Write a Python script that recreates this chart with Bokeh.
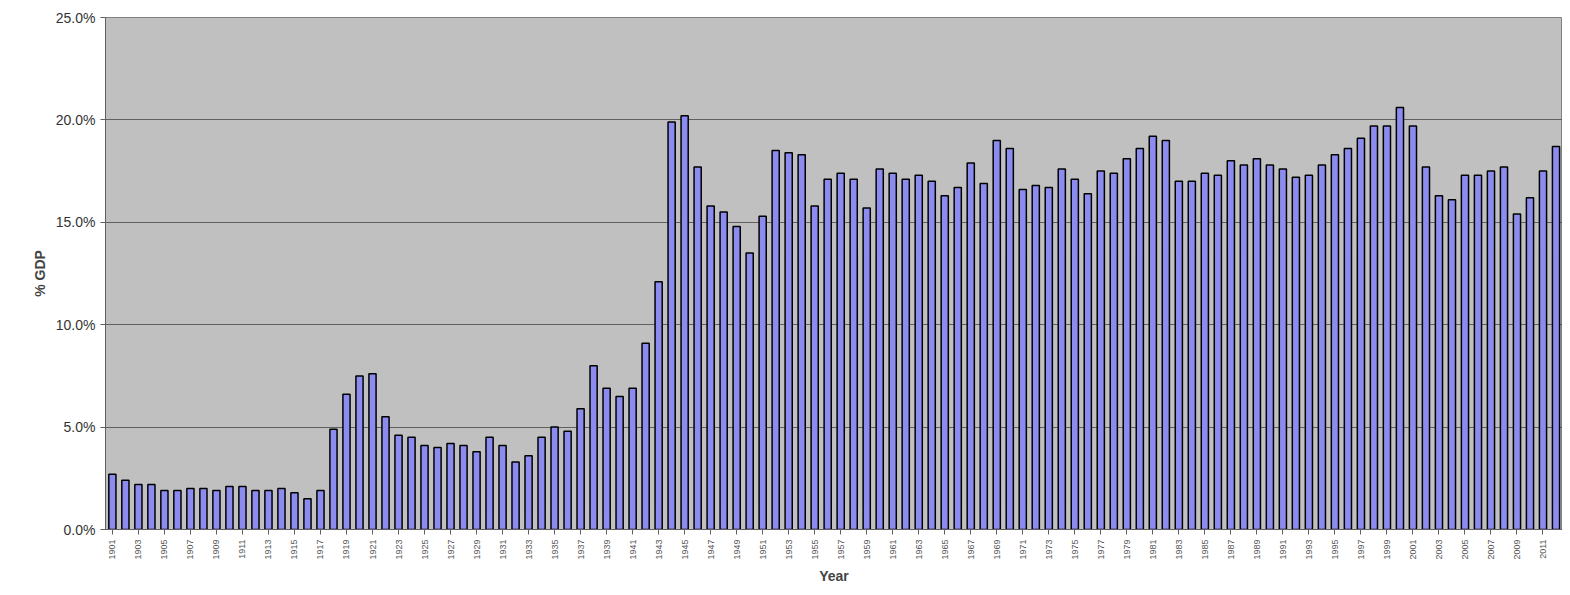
import math
from bokeh.plotting import figure
from bokeh.models import FixedTicker, NumeralTickFormatter, Range1d
from bokeh.embed import file_html
from bokeh.resources import INLINE

years = list(range(1901, 2013))
gdp_pct = [2.7, 2.4, 2.2, 2.2, 1.9, 1.9, 2.0, 2.0, 1.9, 2.1,
           2.1, 1.9, 1.9, 2.0, 1.8, 1.5, 1.9, 4.9, 6.6, 7.5,
           7.6, 5.5, 4.6, 4.5, 4.1, 4.0, 4.2, 4.1, 3.8, 4.5,
           4.1, 3.3, 3.6, 4.5, 5.0, 4.8, 5.9, 8.0, 6.9, 6.5,
           6.9, 9.1, 12.1, 19.9, 20.2, 17.7, 15.8, 15.5, 14.8, 13.5,
           15.3, 18.5, 18.4, 18.3, 15.8, 17.1, 17.4, 17.1, 15.7, 17.6,
           17.4, 17.1, 17.3, 17.0, 16.3, 16.7, 17.9, 16.9, 19.0, 18.6,
           16.6, 16.8, 16.7, 17.6, 17.1, 16.4, 17.5, 17.4, 18.1, 18.6,
           19.2, 19.0, 17.0, 17.0, 17.4, 17.3, 18.0, 17.8, 18.1, 17.8,
           17.6, 17.2, 17.3, 17.8, 18.3, 18.6, 19.1, 19.7, 19.7, 20.6,
           19.7, 17.7, 16.3, 16.1, 17.3, 17.3, 17.5, 17.7, 15.4, 16.2,
           17.5, 18.7]
tick_years = list(range(1901, 2013, 2))
values = [v / 100 for v in gdp_pct]

p = figure(width=1562, height=587, output_backend="svg", toolbar_location=None,
           x_range=Range1d(1900.47, 2012.5), y_range=Range1d(0, 0.25),
           min_border_left=105, min_border_right=0, min_border_top=17, min_border_bottom=58)
p.vbar(x=years, top=values, width=0.55, fill_color="#8c8cf0", line_color="black", line_width=1.5)
p.background_fill_color = "#c0c0c0"
p.border_fill_color = "white"
p.outline_line_color = "#808080"
p.xgrid.visible = False
p.ygrid.grid_line_color = "#606060"
p.ygrid.grid_line_width = 1
p.yaxis.ticker = FixedTicker(ticks=[0, 0.05, 0.10, 0.15, 0.20, 0.25])
p.yaxis.formatter = NumeralTickFormatter(format="0.0%")
p.xaxis.ticker = FixedTicker(ticks=tick_years)
p.xaxis.major_label_orientation = math.pi / 2
p.xaxis.minor_tick_line_color = None
p.yaxis.minor_tick_line_color = None
for ax in (p.xaxis, p.yaxis):
    ax.axis_line_color = "#606060"
    ax.major_tick_line_color = "#606060"
    ax.major_label_text_font = "Liberation Sans"
    ax.major_label_text_color = "#333333"
    ax.axis_label_text_font = "Liberation Sans"
    ax.axis_label_text_font_style = "bold"
    ax.axis_label_text_font_size = "14px"
p.xaxis.major_label_text_font_size = "9px"
p.xaxis.major_label_text_color = "#555555"
p.yaxis.major_label_text_font_size = "14px"
p.xaxis.major_tick_in = 0
p.xaxis.major_tick_out = 5
p.yaxis.major_tick_in = 0
p.yaxis.major_tick_out = 5
p.xaxis.axis_label = "Year"
p.yaxis.axis_label = "% GDP"

open("out.html", "w").write(file_html(p, INLINE))
